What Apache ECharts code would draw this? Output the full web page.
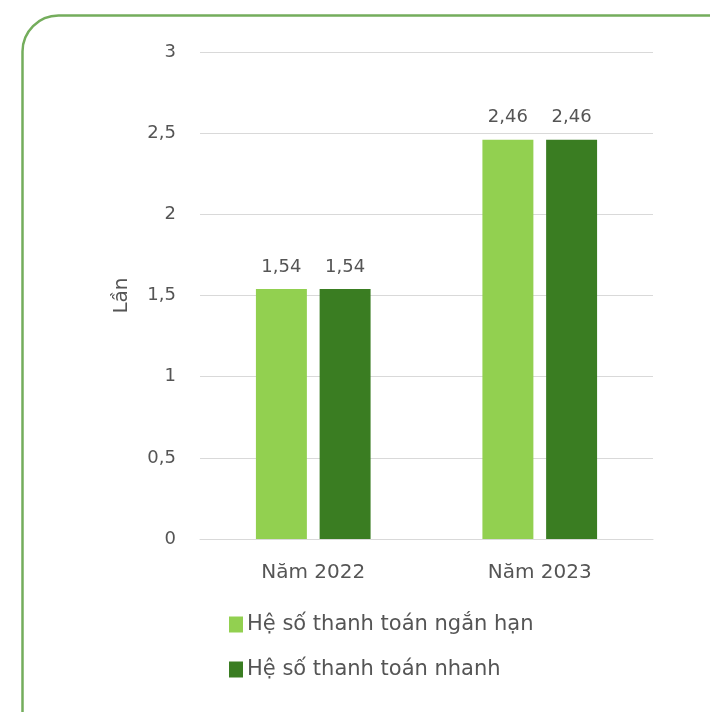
<!DOCTYPE html>
<html><head><meta charset="utf-8">
<script src="https://cdn.jsdelivr.net/npm/echarts@6/dist/echarts.min.js"></script>
<style>html,body{margin:0;padding:0;background:#fff}#c{width:710px;height:712px}</style>
</head><body><div id="c"></div>
<script>
const categories = ['Năm 2022', 'Năm 2023'];
const seriesNames = ['Hệ số thanh toán ngắn hạn', 'Hệ số thanh toán nhanh'];
const shortTerm = [1.54, 2.46];
const quick = [1.54, 2.46];
const yAxisName = 'Lần';

const fmt = v => String(v).replace('.', ',');
const FONT = '"DejaVu Sans", sans-serif';
const TXT = '#555555';
const chart = echarts.init(document.getElementById('c'));
chart.setOption({
  animation: false,
  textStyle: { fontFamily: FONT },
  graphic: [{
    type: 'rect', left: 20, top: 13,
    shape: { width: 740, height: 740, r: 36 },
    style: { fill: 'none', stroke: '#74ad5c', lineWidth: 2.5 }
  }],
  grid: { left: 200, right: 57, top: 52, bottom: 173 },
  legend: {
    orient: 'vertical', left: 224, top: 609, itemGap: 24,
    itemWidth: 14, itemHeight: 16, icon: 'rect', itemStyle: { borderWidth: 0 },
    textStyle: { color: TXT, fontSize: 21, fontFamily: FONT, padding: [0, 0, 0, -1] },
    data: seriesNames
  },
  xAxis: {
    type: 'category', data: categories,
    axisTick: { show: false },
    axisLine: { lineStyle: { color: '#d9d9d9' } },
    axisLabel: { color: TXT, fontSize: 20, margin: 24, fontFamily: FONT }
  },
  yAxis: {
    type: 'value', min: 0, max: 3, interval: 0.5,
    name: yAxisName, nameLocation: 'middle', nameGap: 68, nameRotate: 90,
    nameTextStyle: { color: TXT, fontSize: 20, fontFamily: FONT },
    axisLabel: { color: TXT, fontSize: 18, margin: 24, formatter: fmt, fontFamily: FONT },
    splitLine: { lineStyle: { color: '#d9d9d9', width: 1 } }
  },
  series: [
    { name: seriesNames[0], type: 'bar', data: shortTerm, barWidth: '22.5%', barGap: '25%',
      itemStyle: { color: '#92d050' },
      label: { show: true, position: 'top', distance: 13, color: TXT, fontSize: 18, formatter: p => fmt(p.value), fontFamily: FONT } },
    { name: seriesNames[1], type: 'bar', data: quick, barWidth: '22.5%', barGap: '25%',
      itemStyle: { color: '#3a7d22' },
      label: { show: true, position: 'top', distance: 13, color: TXT, fontSize: 18, formatter: p => fmt(p.value), fontFamily: FONT } }
  ]
});
</script></body></html>
